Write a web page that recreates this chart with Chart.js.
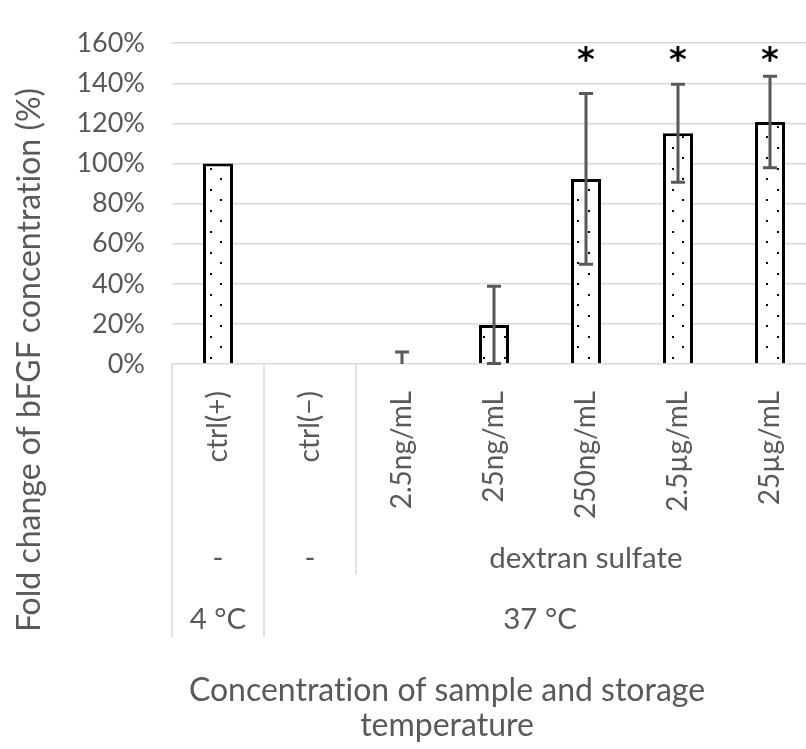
<!DOCTYPE html>
<html>
<head>
<meta charset="utf-8">
<script src="https://cdn.jsdelivr.net/npm/chart.js@4.4.0/dist/chart.umd.min.js"></script>
<style>
  html, body { margin: 0; padding: 0; background: #fff; overflow: hidden; }
  #wrap { position: relative; width: 830px; height: 749px; }
</style>
</head>
<body>
<div id="wrap"><canvas id="chart"></canvas></div>
<script>
// categories (first level of the axis)
const categories = ["ctrl(+)", "ctrl(\u2212)", "2.5ng/mL", "25ng/mL", "250ng/mL", "2.5\u00b5g/mL", "25\u00b5g/mL"];
// second level: additive, with first/last category index
const additiveLabels = ["-", "-", "dextran sulfate"];
const additiveSpans = [[0, 0], [1, 1], [2, 6]];
// third level: storage temperature
const tempLabels = ["4 \u00b0C", "37 \u00b0C"];
const tempSpans = [[0, 0], [1, 6]];

// fold change (%) and error bars
const foldChange = [100, 0, 0, 19.5, 92.3, 115.1, 120.7];
const errorBars = [0, 0, 6, 19.3, 42.6, 24.4, 22.8];
const significance = ["", "", "", "", "*", "*", "*"];
const yMin = 0, yMax = 160, yStep = 20;

// titles (\u200c stops the "ti" ligature in Lato)
const xTitle = ["Concentrat\u200cion of sample and storage", "temperature"];
const yTitle = "Fold change of bFGF concentrat\u200cion (%)";

const textColor = "#595959";
const fontFamily = "Lato, 'Open Sans', sans-serif";

// Excel-like sparse dot pattern for the bars
function dotPattern() {
    const c = document.createElement("canvas");
    c.width = 21; c.height = 21;
    const g = c.getContext("2d");
    g.fillStyle = "#fff";
    g.fillRect(0, 0, 21, 21);
    g.fillStyle = "#000";
    g.fillRect(0, 0, 2, 2);
    g.fillRect(10, 10, 2, 2);
    return g.createPattern(c, "repeat");
}

// error bars + asterisks
const errorBarPlugin = {
    id: "errorBars",
    afterDatasetsDraw(chart) {
        const ctx = chart.ctx;
        const y = chart.scales.y;
        const meta = chart.getDatasetMeta(0);
        ctx.save();
        ctx.strokeStyle = "#595959";
        ctx.lineWidth = 3;
        meta.data.forEach((bar, i) => {
            const err = errorBars[i];
            if (!err) return;
            const v = foldChange[i];
            const top = y.getPixelForValue(v + err);
            const low = Math.max(v - err, 0);
            const bot = y.getPixelForValue(low);
            ctx.beginPath();
            ctx.moveTo(bar.x, top);
            ctx.lineTo(bar.x, bot);
            ctx.moveTo(bar.x - 7, top);
            ctx.lineTo(bar.x + 7, top);
            if (low > 0) {
                ctx.moveTo(bar.x - 7, bot);
                ctx.lineTo(bar.x + 7, bot);
            }
            ctx.stroke();
        });
        ctx.fillStyle = "#000";
        ctx.font = "bold 34px 'DejaVu Sans'";
        ctx.textAlign = "center";
        ctx.textBaseline = "alphabetic";
        meta.data.forEach((bar, i) => {
            if (!significance[i]) return;
            const m = ctx.measureText(significance[i]);
            const cy = y.getPixelForValue(154.5);
            const off = (m.actualBoundingBoxAscent - m.actualBoundingBoxDescent) / 2;
            ctx.fillText(significance[i], bar.x, cy + off);
        });
        ctx.restore();
    }
};

// multi-level category axis + axis titles
const groupAxisPlugin = {
    id: "groupAxis",
    afterDraw(chart) {
        const ctx = chart.ctx;
        const x = chart.scales.x;
        const area = chart.chartArea;
        const half = (x.getPixelForValue(1) - x.getPixelForValue(0)) / 2;
        const edge = i => x.getPixelForValue(i) - half;
        const base = area.bottom;
        ctx.save();
        ctx.strokeStyle = "#d9d9d9";
        ctx.lineWidth = 1.5;
        // long dividers at temperature group edges
        tempSpans.forEach(s => {
            ctx.beginPath();
            ctx.moveTo(edge(s[0]), base);
            ctx.lineTo(edge(s[0]), base + 273);
            ctx.stroke();
        });
        // short dividers at additive group edges
        additiveSpans.forEach(s => {
            if (tempSpans.some(t => t[0] === s[0])) return;
            ctx.beginPath();
            ctx.moveTo(edge(s[0]), base);
            ctx.lineTo(edge(s[0]), base + 211);
            ctx.stroke();
        });
        ctx.fillStyle = textColor;
        ctx.textAlign = "center";
        ctx.textBaseline = "middle";
        ctx.font = "29.5px " + fontFamily;
        additiveLabels.forEach((t, k) => {
            const s = additiveSpans[k];
            ctx.fillText(t, (edge(s[0]) + edge(s[1] + 1)) / 2, base + 194);
        });
        tempLabels.forEach((t, k) => {
            const s = tempSpans[k];
            ctx.fillText(t, (edge(s[0]) + edge(s[1] + 1)) / 2, base + 255);
        });
        // x title
        ctx.font = "32px " + fontFamily;
        ctx.fillText(xTitle[0], 447, 691);
        ctx.fillText(xTitle[1], 447, 726);
        // y title
        ctx.translate(30, 360);
        ctx.rotate(-Math.PI / 2);
        ctx.fillText(yTitle, 0, 0);
        ctx.restore();
    }
};

new Chart(document.getElementById("chart"), {
    type: "bar",
    data: {
        labels: categories,
        datasets: [{
            data: foldChange,
            backgroundColor: dotPattern(),
            borderColor: "#000",
            borderWidth: 3,
            categoryPercentage: 1,
            barPercentage: 0.326
        }]
    },
    options: {
        responsive: true,
        maintainAspectRatio: false,
        animation: false,
        layout: { padding: { left: 0, right: 14, top: 25, bottom: 0 } },
        plugins: { legend: { display: false }, tooltip: { enabled: false } },
        scales: {
            x: {
                grid: { display: false },
                border: { display: false },
                ticks: {
                    autoSkip: false,
                    minRotation: 90,
                    maxRotation: 90,
                    padding: 19,
                    color: textColor,
                    font: { family: fontFamily, size: 28 }
                },
                afterFit: s => { s.height = 385; }
            },
            y: {
                min: yMin,
                max: yMax,
                grid: { color: "#d9d9d9", lineWidth: 1.5, drawTicks: false },
                border: { display: false },
                ticks: {
                    stepSize: yStep,
                    padding: 27,
                    color: textColor,
                    font: { family: fontFamily, size: 27 },
                    callback: v => v + "%"
                },
                afterFit: s => { s.width = 172; }
            }
        }
    },
    plugins: [errorBarPlugin, groupAxisPlugin]
});
</script>
</body>
</html>
